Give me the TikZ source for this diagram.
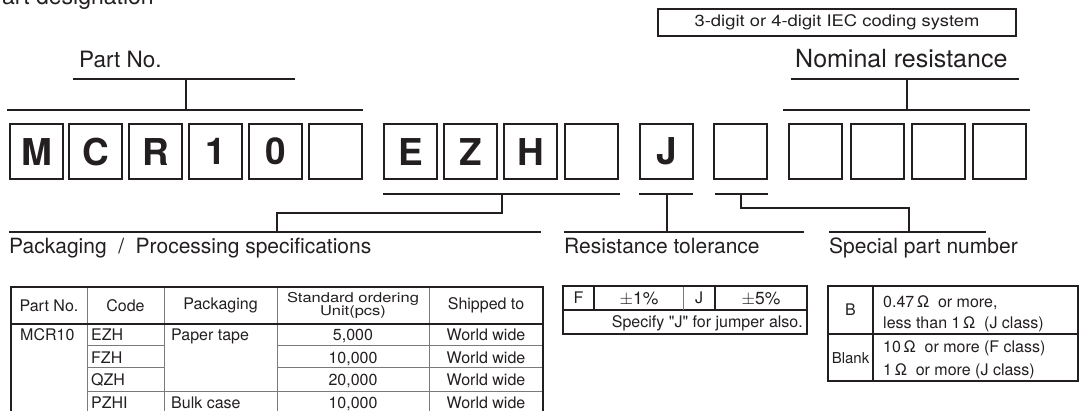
\documentclass[tikz,border=0pt]{standalone}
\usepackage{fontspec}
\newfontfamily\hv{TeX Gyre Heros}
\definecolor{ink}{HTML}{231F20}
\definecolor{rulegray}{HTML}{7A7A7A}
\begin{document}
\hv
\begin{tikzpicture}[x=1pt,y=-1pt,
  digit/.style={draw=ink, line width=2.2pt, minimum width=53pt, minimum height=55pt, inner sep=0pt, anchor=north west, text=ink, font=\fontsize{37}{37}\selectfont\bfseries},
  lbl/.style={anchor=base west, inner sep=0pt, text=ink, font=\fontsize{21}{21}\selectfont},
  brk/.style={draw=ink, line width=2.6pt},
  frame/.style={draw=ink, line width=2.6pt},
  thinline/.style={draw=rulegray, line width=1pt},
  darkline/.style={draw=ink, line width=1.1pt},
  cell/.style={inner sep=0pt, text=ink, font=\fontsize{16}{16}\selectfont},
  cellw/.style={cell, anchor=base west},
  cellc/.style={cell, anchor=base},
]
\useasboundingbox (0,0) rectangle (1084,411);

% heading (clipped at top, as in the reference)
\node[lbl, font=\fontsize{23}{23}\selectfont] (head) at (2,5) {art designation};

% IEC box
\node[draw=ink, line width=2pt, anchor=north west, minimum width=358pt, minimum height=27pt, inner sep=0pt] (iec) at (657,8) {};
\node[inner sep=0pt, text=ink, font=\fontsize{16}{16}\selectfont, xscale=1.15, transform shape] (iect) at (iec.center) {3-digit or 4-digit IEC coding system};

% digit boxes
\foreach \x/\t [count=\i] in {9/M,68/C,128/R,188/1,248/0,308/{},383/E,443/Z,503/H,564/{},639/J,713/{},788/{},850/{},911/{},972/{}}
  \node[digit] (b\i) at (\x,123) {\t};

% top labels and brackets
\node[lbl, font=\fontsize{22.5}{22.5}\selectfont] (lpart) at (79,68) {Part No.};
\draw[brk] (7,110) -- (363,110);
\draw[brk] (186,110) -- (186,79);
\draw[brk] (73,79) -- (295,79);

\node[lbl, font=\fontsize{25}{25}\selectfont] (lnom) at (795,68) {Nominal resistance};
\draw[brk] (783,110) -- (1030,110);
\draw[brk] (907,110) -- (907,79);
\draw[brk] (791,79) -- (1019,79);

% bottom brackets
\draw[brk] (383,194) -- (620,194);
\draw[brk] (502,194) -- (502,213) -- (277,213) -- (277,232);
\draw[brk] (9,232) -- (541,232);
\node[lbl] (lpack) at (9,254) {Packaging\hspace{0.55em}/\hspace{0.55em}Processing specifications};

\draw[brk] (639,194) -- (693,194);
\draw[brk] (667,194) -- (667,232);
\draw[brk] (564,232) -- (804,232);
\node[lbl] (ltol) at (564,254) {Resistance tolerance};

\draw[brk] (715,194) -- (768,194);
\draw[brk] (741,194) -- (741,208) -- (909,208) -- (909,232);
\draw[brk] (829,232) -- (986,232);
\node[lbl] (lspec) at (829,254) {Special part number};

% packaging table
\foreach \x in {87,164,277,429} \draw[thinline] (\x,287) -- (\x,415);
\draw[thinline] (87,346) -- (164,346) (277,346) -- (543,346);
\draw[thinline] (87,368) -- (164,368) (277,368) -- (543,368);
\draw[thinline] (87,391) -- (543,391);
\draw[frame] (11,415) -- (11,287) -- (543,287) -- (543,415);
\draw[frame] (11,324) -- (543,324);

\node[cell] (h1) at (49,305.5) {Part No.};
\node[cell] (h2) at (125.5,305.5) {Code};
\node[cell] (h3) at (220.5,305.5) {Packaging};
\node[cell, align=center, font=\fontsize{16.5}{15}\selectfont, yscale=0.82, transform shape] (h4) at (353,305.5) {Standard ordering\\Unit(pcs)};
\node[cell] (h5) at (486,305.5) {Shipped to};

\node[cellw] (p1) at (20,341) {MCR10};
\node[cellw] (c1) at (91,341) {EZH};
\node[cellw] (c2) at (91,363) {FZH};
\node[cellw] (c3) at (91,385.5) {QZH};
\node[cellw] (c4) at (91,408) {PZHI};
\node[cellw] (k1) at (171,341) {Paper tape};
\node[cellw] (k2) at (171,408) {Bulk case};
\node[cellc] (n1) at (353,341) {5,000};
\node[cellc] (n2) at (353,363) {10,000};
\node[cellc] (n3) at (353,385.5) {20,000};
\node[cellc] (n4) at (353,408) {10,000};
\node[cellc] (s1) at (486,341) {World wide};
\node[cellc] (s2) at (486,363) {World wide};
\node[cellc] (s3) at (486,385.5) {World wide};
\node[cellc] (s4) at (486,408) {World wide};

% tolerance table
\draw[darkline] (563,310) -- (807,310);
\draw[darkline] (594,286) -- (594,310);
\draw[thinline] (683,286) -- (683,310);
\draw[darkline] (715,286) -- (715,310);
\draw[frame] (563,286) rectangle (807,334);
\node[cellc] (tF) at (578.5,304) {F};
\node[cellc, font=\fontsize{17.5}{17.5}\selectfont] (t1) at (639,304.5) {$\pm$1\%};
\node[cellc] (tJ) at (699,304) {J};
\node[cellc, font=\fontsize{17.5}{17.5}\selectfont] (t5) at (761,304.5) {$\pm$5\%};
\node[cell, anchor=base east] (tnote) at (803,328) {Specify "J" for jumper also.};

% special part number table
\draw[darkline] (873,286) -- (873,381);
\draw[darkline] (828,334) -- (1078,334);
\draw[frame] (828,286) rectangle (1078,381);
\node[cellc] (sB) at (850.5,316) {B};
\node[cellw] (sB1) at (883,308) {0.47\,Ω\ \ or more,};
\node[cellw] (sB2) at (883,329) {less than 1\,Ω\ \ (J class)};
\node[cellc, font=\fontsize{15}{15}\selectfont] (sBl) at (850.5,364) {Blank};
\node[cellw] (sL1) at (883,353) {10\,Ω\ \ or more (F class)};
\node[cellw] (sL2) at (883,376) {1\,Ω\ \ or more (J class)};
\end{tikzpicture}
\end{document}
